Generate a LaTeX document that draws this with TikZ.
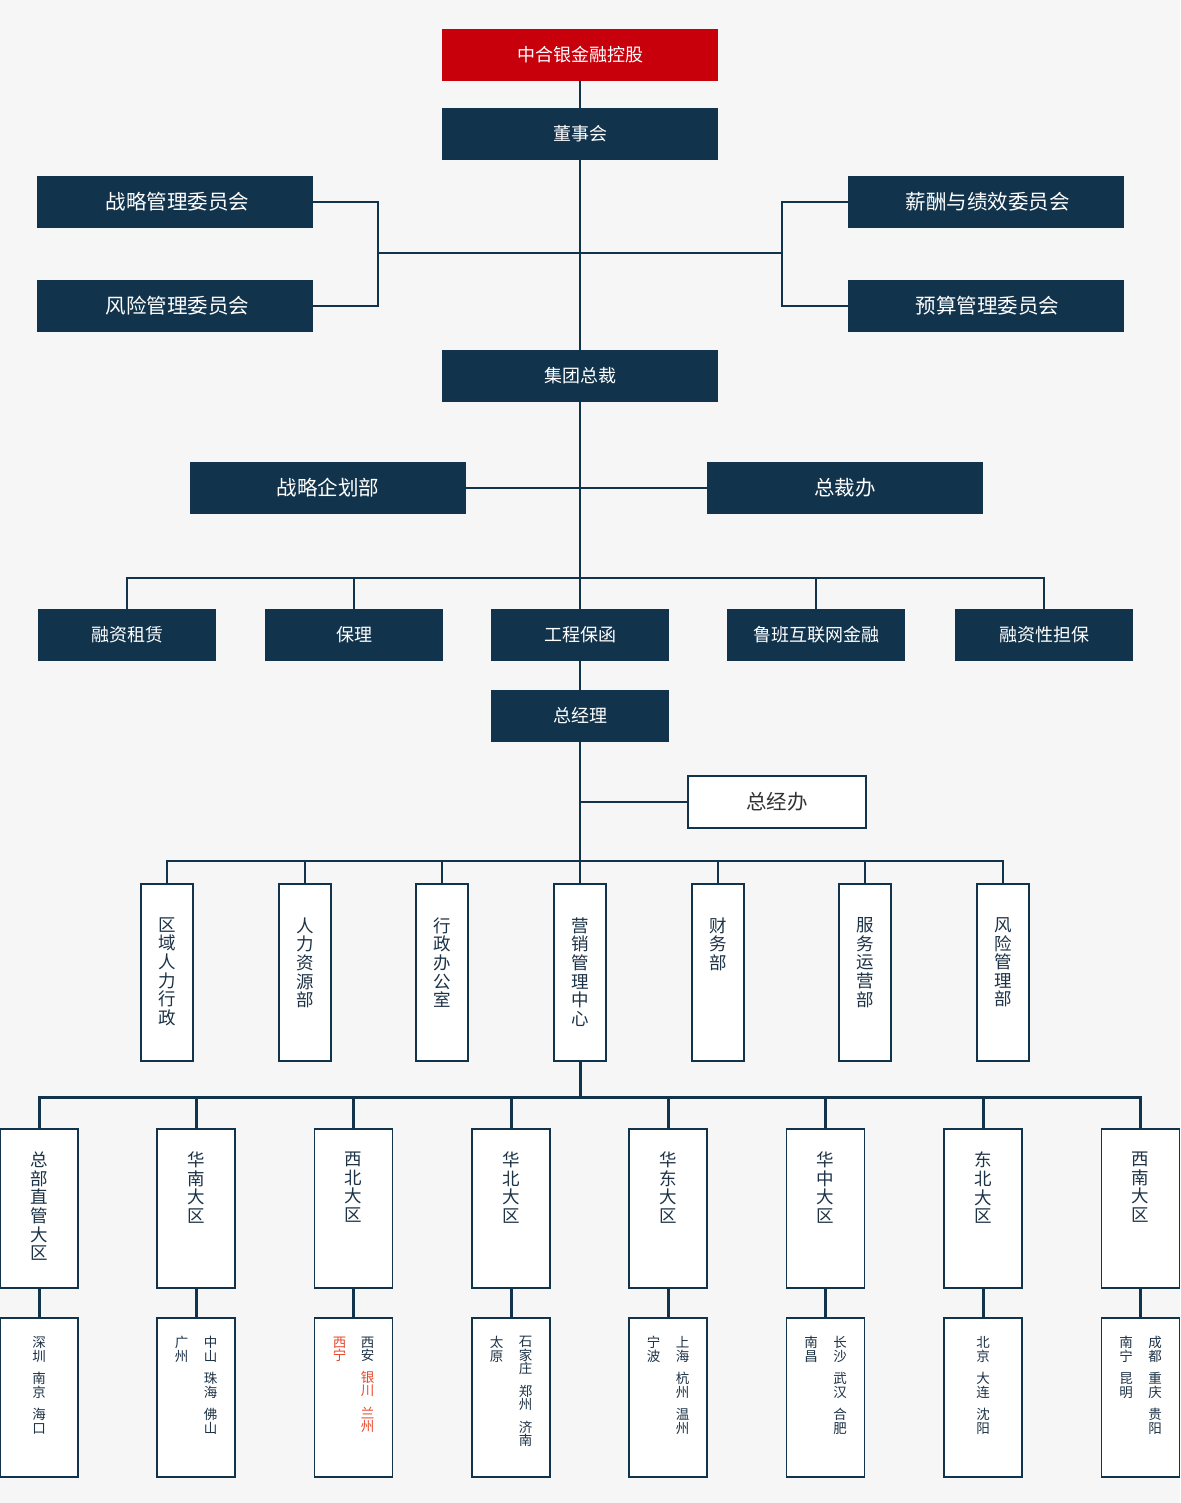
\documentclass[tikz,border=0pt]{standalone}
\usepackage{fontspec}
\setmainfont{Noto Sans CJK SC}
\definecolor{navy}{RGB}{18,51,76}
\definecolor{topred}{RGB}{200,0,11}
\definecolor{paper}{RGB}{246,246,246}
\definecolor{cityred}{RGB}{232,72,45}
\definecolor{vnavy}{RGB}{28,50,70}
\definecolor{offgrey}{RGB}{51,51,51}
\begin{document}
\begin{tikzpicture}[x=1pt, y=-1pt,
    darkbox/.style = {fill=navy, text=white, minimum width=276, minimum height=52, inner sep=0pt, font=\fontsize{18}{18}\selectfont},
    bigtext/.style = {font=\fontsize{20.5}{20.5}\selectfont},
    redbox/.style = {darkbox, fill=topred},
    shortbox/.style = {darkbox, minimum width=178},
    whitebox/.style = {draw=navy, line width=1.3pt, fill=white, inner sep=0pt},
    colbox/.style = {whitebox, minimum width=52, minimum height=177},
    areabox/.style = {whitebox, minimum width=78, minimum height=159},
    vtext/.style = {anchor=north, align=center, inner sep=0pt, text=vnavy, font=\fontsize{17.5}{18.6}\selectfont},
    ctext/.style = {anchor=north, align=center, inner sep=0pt, text=vnavy, font=\fontsize{13.5}{13.5}\selectfont},
    link/.style = {draw=navy, line width=2pt},
    heavylink/.style = {draw=navy, line width=3pt}
  ]
  \useasboundingbox (0,0) rectangle (1180,1503);
  \fill[paper] (0,0) rectangle (1180,1503);

  % top of the chart
  \node[redbox]  (holding) at (580,55)  {中合银金融控股};
  \node[darkbox] (board)   at (580,134) {董事会};
  \node[darkbox, bigtext] (strat)  at (175,202) {\hspace{5pt}战略管理委员会};
  \node[darkbox, bigtext] (riskc)  at (175,306) {\hspace{5pt}风险管理委员会};
  \node[darkbox, bigtext] (payc)   at (986,202) {\hspace{3pt}薪酬与绩效委员会};
  \node[darkbox, bigtext] (budget) at (986,306) {\hspace{3pt}预算管理委员会};
  \node[darkbox] (ceo)     at (580,376) {集团总裁};
  \node[darkbox, bigtext] (plan)   at (328,488) {战略企划部};
  \node[darkbox, bigtext] (ceooff) at (845,488) {总裁办};

  % business lines
  \node[shortbox] (lease)  at (127,635)  {融资租赁};
  \node[shortbox] (factor) at (354,635)  {保理};
  \node[shortbox] (guar)   at (580,635)  {工程保函};
  \node[shortbox] (luban)  at (816,635)  {鲁班互联网金融};
  \node[shortbox] (secur)  at (1044,635) {融资性担保};
  \node[shortbox] (gm)     at (580,716)  {总经理};
  \node[whitebox, minimum width=178, minimum height=52, text=offgrey, bigtext] (gmoff) at (777,802) {总经办};

  % departments
  \foreach \n/\x/\t in {d1/167/{区\\域\\人\\力\\行\\政}, d2/305/{人\\力\\资\\源\\部},
      d3/442/{行\\政\\办\\公\\室}, mkt/580/{营\\销\\管\\理\\中\\心}, d5/718/{财\\务\\部},
      d6/865/{服\\务\\运\\营\\部}, d7/1003/{风\\险\\管\\理\\部}} {
    \node[colbox] (\n) at (\x,972.5) {};
    \node[vtext] (\n-t) at ([yshift=-34pt]\n.north) {\t};
  }

  % regions and cities
  \foreach \n/\x/\t in {a1/39/{总\\部\\直\\管\\大\\区}, a2/196/{华\\南\\大\\区},
      a3/353.5/{西\\北\\大\\区}, a4/511/{华\\北\\大\\区}, a5/668/{华\\东\\大\\区},
      a6/825.5/{华\\中\\大\\区}, a7/983/{东\\北\\大\\区}, a8/1140.5/{西\\南\\大\\区}} {
    \node[areabox] (\n) at (\x,1208.5) {};
    \node[vtext] (\n-t) at ([yshift=-23.5pt]\n.north) {\t};
    \node[areabox] (c\n) at (\x,1397.5) {};
    \draw[heavylink] (\n) -- (c\n);
  }
  \node[ctext] (ca1-r) at ([yshift=-19pt]ca1.north) {深\\圳\\[9pt]南\\京\\[9pt]海\\口};
  \node[ctext] (ca2-r) at ([xshift=14.5pt, yshift=-19pt]ca2.north) {中\\山\\[9pt]珠\\海\\[9pt]佛\\山};
  \node[ctext] (ca2-l) at ([xshift=-14.5pt, yshift=-19pt]ca2.north) {广\\州};
  \node[ctext] (ca3-r) at ([xshift=14pt, yshift=-19pt]ca3.north) {西\\安};
  \node[ctext, text=cityred] (ca3-s) at ([yshift=-9pt]ca3-r.south) {银\\川\\[9pt]兰\\州};
  \node[ctext, text=cityred] (ca3-l) at ([xshift=-14pt, yshift=-19pt]ca3.north) {西\\宁};
  \node[ctext] (ca4-r) at ([xshift=14.5pt, yshift=-19pt]ca4.north) {石\\家\\庄\\[9pt]郑\\州\\[9pt]济\\南};
  \node[ctext] (ca4-l) at ([xshift=-14.5pt, yshift=-19pt]ca4.north) {太\\原};
  \node[ctext] (ca5-r) at ([xshift=14.5pt, yshift=-19pt]ca5.north) {上\\海\\[9pt]杭\\州\\[9pt]温\\州};
  \node[ctext] (ca5-l) at ([xshift=-14.5pt, yshift=-19pt]ca5.north) {宁\\波};
  \node[ctext] (ca6-r) at ([xshift=14.5pt, yshift=-19pt]ca6.north) {长\\沙\\[9pt]武\\汉\\[9pt]合\\肥};
  \node[ctext] (ca6-l) at ([xshift=-14.5pt, yshift=-19pt]ca6.north) {南\\昌};
  \node[ctext] (ca7-r) at ([yshift=-19pt]ca7.north) {北\\京\\[9pt]大\\连\\[9pt]沈\\阳};
  \node[ctext] (ca8-r) at ([xshift=14.5pt, yshift=-19pt]ca8.north) {成\\都\\[9pt]重\\庆\\[9pt]贵\\阳};
  \node[ctext] (ca8-l) at ([xshift=-14.5pt, yshift=-19pt]ca8.north) {南\\宁\\[9pt]昆\\明};

  % connectors
  \coordinate (jl) at (378,253);
  \coordinate (jr) at (782,253);
  \coordinate (bus1) at (580,578);
  \coordinate (bus2) at (580,861);
  \coordinate (bus3) at (580,1097);
  \draw[link] (holding) -- (board);
  \draw[link] (board) -- (ceo);
  \draw[link] (strat.east) -| (jl) |- (riskc.east);
  \draw[link] (payc.west) -| (jr) |- (budget.west);
  \draw[link] (jl) -- (jr);
  \draw[link] (ceo) -- (guar);
  \draw[link] (plan) -- (ceooff);
  \draw[link] (lease) |- (bus1) -| (secur);
  \draw[link] (factor) -- (factor |- bus1);
  \draw[link] (luban) -- (luban |- bus1);
  \draw[link] (guar) -- (gm);
  \draw[link] (gm) -- (mkt);
  \draw[link] (gmoff.west) -- (gmoff.west -| gm);
  \draw[link] (d1) |- (bus2) -| (d7);
  \foreach \n in {d2,d3,d5,d6} \draw[link] (\n) -- (\n |- bus2);
  \draw[heavylink] (mkt) -- (bus3);
  \draw[heavylink] (a1) |- (bus3) -| (a8);
  \foreach \n in {a2,a3,a4,a5,a6,a7} \draw[heavylink] (\n) -- (\n |- bus3);
\end{tikzpicture}
\end{document}
